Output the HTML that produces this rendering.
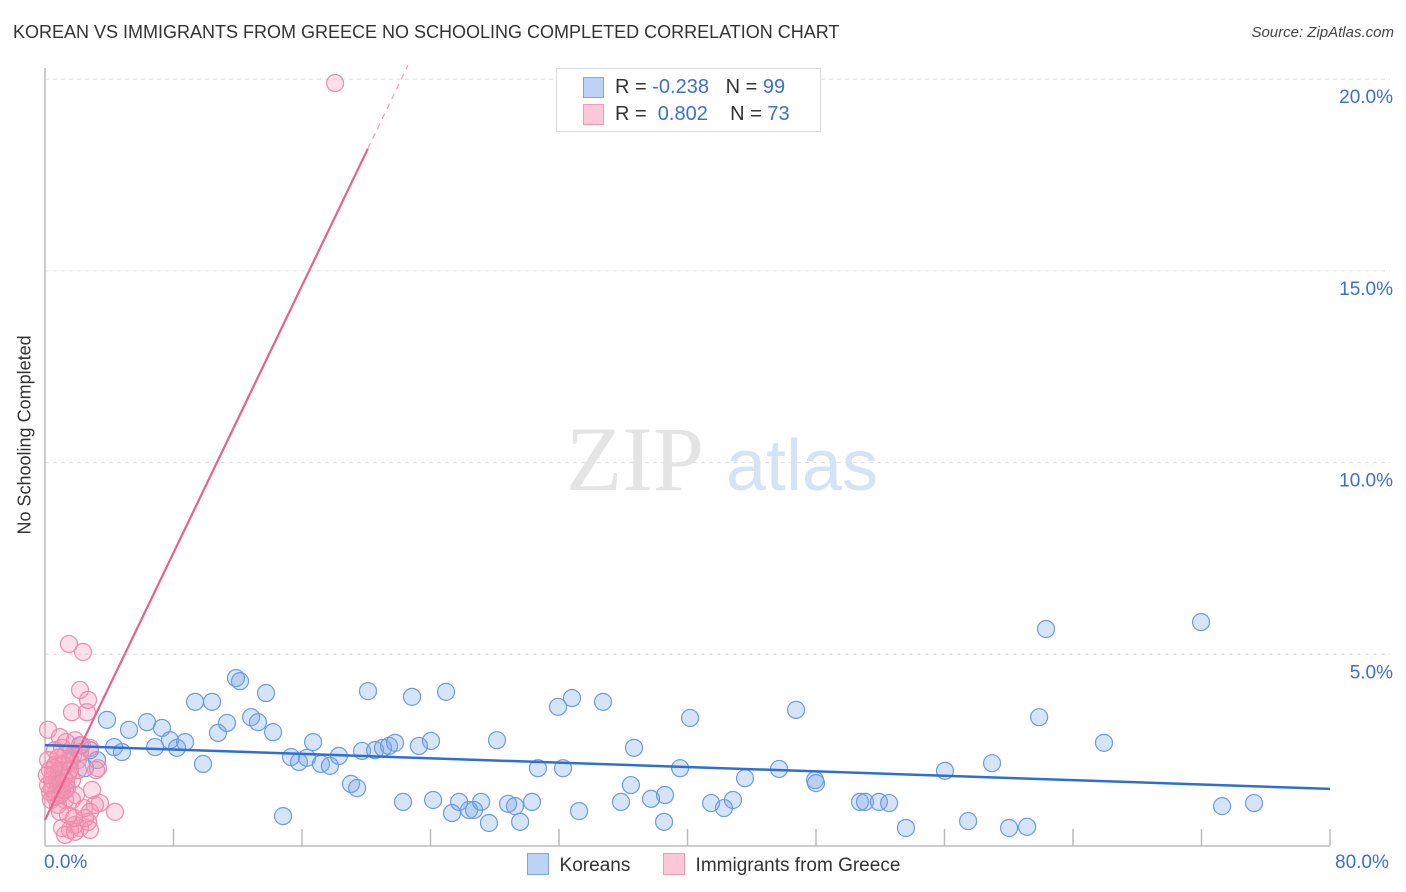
<!DOCTYPE html>
<html><head><meta charset="utf-8">
<style>
body{margin:0;background:#fff;font-family:"Liberation Sans",sans-serif;}
#wrap{position:relative;width:1406px;height:892px;overflow:hidden;}
.t{position:absolute;white-space:nowrap;}
</style></head>
<body>
<div id="wrap">
<div class="t" style="left:13px;top:22px;font-size:18px;color:#333;">KOREAN VS IMMIGRANTS FROM GREECE NO SCHOOLING COMPLETED CORRELATION CHART</div>
<div class="t" style="right:12px;top:24px;font-size:15px;color:#444;font-style:italic;">Source: ZipAtlas.com</div>
<svg id="svg" width="1406" height="892" style="position:absolute;left:0;top:0"></svg>
</div>
<script>
const yTicks=[5,10,15,20];
const yTickLabels=["5.0%","10.0%","15.0%","20.0%"];
const xTickVals=[8,16,24,32,40,48,56,64,72,80];
const koreanX=[3.86,5.23,4.30,4.79,6.35,6.85,7.28,7.78,8.22,8.72,9.34,9.84,10.40,10.77,11.33,11.89,12.14,12.83,13.26,13.76,14.20,14.82,15.32,15.81,16.31,16.69,17.18,17.74,18.30,19.05,19.43,19.74,20.11,20.55,21.04,21.42,21.79,22.29,22.85,23.28,24.03,24.16,24.97,25.34,25.78,26.40,26.71,27.15,27.64,28.14,28.83,29.26,29.58,30.32,30.69,31.94,32.25,32.81,33.25,34.74,35.86,36.48,36.67,37.73,38.54,38.60,39.54,40.16,41.47,42.27,42.83,43.58,45.70,46.76,47.94,48.00,50.74,51.05,51.92,52.55,53.60,56.03,57.47,58.96,60.02,61.14,61.89,62.32,65.93,71.97,73.28,75.27,0.93,1.56,2.18,2.80,3.24,1.25,2.49];
const koreanY=[3.29,3.03,2.58,2.45,3.23,2.58,3.08,2.76,2.56,2.71,3.76,2.14,3.76,2.95,3.21,4.38,4.30,3.36,3.23,3.99,2.97,0.78,2.32,2.19,2.30,2.71,2.14,2.09,2.35,1.62,1.51,2.48,4.04,2.50,2.56,2.61,2.69,1.15,3.89,2.61,2.74,1.20,4.02,0.86,1.15,0.94,0.94,1.15,0.60,2.76,1.10,1.04,0.63,1.15,2.03,3.63,2.03,3.86,0.91,3.76,1.15,1.59,2.56,1.23,0.63,1.33,2.03,3.34,1.12,0.99,1.20,1.77,2.01,3.55,1.72,1.64,1.15,1.15,1.15,1.12,0.47,1.96,0.65,2.16,0.47,0.50,3.36,5.66,2.69,5.84,1.04,1.12,1.98,2.24,2.63,2.50,2.24,1.46,2.03];
const greeceX=[1.49,2.37,2.18,2.68,1.68,2.61,0.19,0.93,1.87,2.80,0.62,1.25,0.19,0.62,0.93,1.43,0.44,0.81,1.06,0.31,0.62,1.25,1.68,2.05,1.56,1.06,3.30,2.93,3.11,3.42,4.36,1.43,1.87,2.68,1.06,1.56,2.18,2.80,1.25,1.87,2.49,18.06,0.31,0.50,0.75,0.87,1.12,1.31,0.44,0.68,0.19,0.93,1.74,2.05,2.30,1.31,1.56,0.81,1.18,0.56,1.00,1.37,0.12,0.37,1.93,2.18,1.68,0.81,0.93,1.81,2.43,2.80,3.18];
const greeceY=[5.27,5.06,4.07,3.81,3.49,3.49,3.03,2.84,2.76,2.56,2.50,2.37,2.24,2.11,1.98,1.85,1.72,1.59,1.46,1.41,1.28,1.20,1.72,1.98,2.19,2.56,2.03,1.46,1.07,1.12,0.89,0.81,0.55,0.63,0.47,0.42,0.47,0.42,0.29,0.37,0.73,19.90,1.98,1.85,1.72,1.93,2.11,1.67,1.51,1.38,1.59,1.33,2.37,2.24,2.63,2.71,1.98,2.30,1.77,2.03,1.62,1.51,1.85,1.20,1.33,2.45,1.20,1.07,0.89,0.73,0.99,0.89,1.98];
const koreanTrend=[2.63,1.49];   // y at x=0 and x=80
const greeceTrend=[0.68,0.871];  // intercept, slope
const X0=45,X1=1330,Y0=846,PX5=191.7;
function sx(v){return X0+(X1-X0)*v/80;}
function sy(v){return Y0-PX5*v/5;}
const svg=document.getElementById('svg');
const NS='http://www.w3.org/2000/svg';
function mk(tag,attrs,parent){const e=document.createElementNS(NS,tag);for(const k in attrs)e.setAttribute(k,attrs[k]);(parent||svg).appendChild(e);return e;}
yTicks.forEach((v,i)=>{
 const g=mk('line',{x1:X0,x2:1390,y1:sy(v),y2:sy(v),stroke:'#ddd','stroke-dasharray':'4,4'});
 
 
 const t=mk('text',{x:1393,y:sy(v)+24,'text-anchor':'end','font-size':'19',fill:'#3b6fd6','font-family':'Liberation Sans'});
 t.textContent=yTickLabels[i];
 
 
});
const ax=mk('line',{x1:X0,x2:X0,y1:68,y2:Y0,stroke:'#bbb','stroke-width':1.5});


const bx=mk('line',{x1:X0,x2:X1,y1:Y0,y2:Y0,stroke:'#bbb','stroke-width':1.5});


xTickVals.forEach(v=>{
 const l=mk('line',{x1:sx(v),x2:sx(v),y1:Y0,y2:Y0-17,stroke:'#bbb','stroke-width':1.5});
 
 
});
// watermark
const w1=mk('text',{x:635,y:490,'text-anchor':'middle','font-size':'92',fill:'#e4e4e4','font-family':'Liberation Serif'});
w1.textContent='ZIP';


const w2=mk('text',{x:802,y:490,'text-anchor':'middle','font-size':'72',fill:'#d6e2f5','font-family':'Liberation Sans'});
w2.textContent='atlas';


koreanX.forEach((v,i)=>{
 const c=mk('circle',{cx:sx(v),cy:sy(koreanY[i]),r:8.5,fill:'rgba(120,165,230,0.3)',stroke:'#6d9be0','stroke-width':1.2});
 
 
});
greeceX.forEach((v,i)=>{
 const c=mk('circle',{cx:sx(v),cy:sy(greeceY[i]),r:8.5,fill:'rgba(245,150,180,0.3)',stroke:'#ee8aaa','stroke-width':1.2});
 
 
});
const kt=mk('line',{x1:sx(0),y1:sy(koreanTrend[0]),x2:sx(80),y2:sy(koreanTrend[1]),stroke:'#2f6fd4','stroke-width':2.5});


const gxEnd=20.1,gxDash=22.6;
const gt=mk('line',{x1:sx(0),y1:sy(greeceTrend[0]),x2:sx(gxEnd),y2:sy(greeceTrend[0]+greeceTrend[1]*gxEnd),stroke:'#e8618f','stroke-width':2.2});


const gd=mk('line',{x1:sx(gxEnd),y1:sy(greeceTrend[0]+greeceTrend[1]*gxEnd),x2:sx(gxDash),y2:sy(greeceTrend[0]+greeceTrend[1]*gxDash),stroke:'#f0a0bb','stroke-width':1.2,'stroke-dasharray':'6,5'});


</script>
<div class="t" style="left:44px;top:852px;font-size:19px;color:#3b6fd6;">0.0%</div>
<div class="t" style="left:1335px;top:852px;font-size:19px;color:#3b6fd6;">80.0%</div>
<div class="t" style="left:-55px;top:444px;font-size:18px;color:#333;transform:rotate(-90deg);width:160px;text-align:center;">No Schooling Completed</div>
<div style="position:absolute;left:556px;top:68px;width:263px;height:62px;border:1px solid #ddd;background:#fff;font-size:20px;color:#333;">
 <div style="position:absolute;left:26px;top:8px;width:19px;height:19px;background:#bcd3f5;border:1px solid #7ea6e6;"></div>
 <div class="t" style="left:58px;top:7px;">R = <span style="color:#3b6fd6">-0.238</span>&nbsp;&nbsp;&nbsp;N = <span style="color:#3b6fd6">99</span></div>
 <div style="position:absolute;left:26px;top:35px;width:19px;height:19px;background:#fbc8d8;border:1px solid #ef9ab6;"></div>
 <div class="t" style="left:58px;top:34px;">R = &nbsp;<span style="color:#3b6fd6">0.802</span>&nbsp;&nbsp;&nbsp;&nbsp;N = <span style="color:#3b6fd6">73</span></div>
</div>
<div style="position:absolute;left:527px;top:853px;font-size:19px;color:#333;">
 <span style="display:inline-block;width:20px;height:20px;background:#bcd3f5;border:1px solid #7ea6e6;vertical-align:-4px;"></span>&nbsp; Koreans</div>
<div style="position:absolute;left:663px;top:853px;font-size:19px;color:#333;">
 <span style="display:inline-block;width:20px;height:20px;background:#fbc8d8;border:1px solid #ef9ab6;vertical-align:-4px;"></span>&nbsp; Immigrants from Greece</div>
</body></html>
